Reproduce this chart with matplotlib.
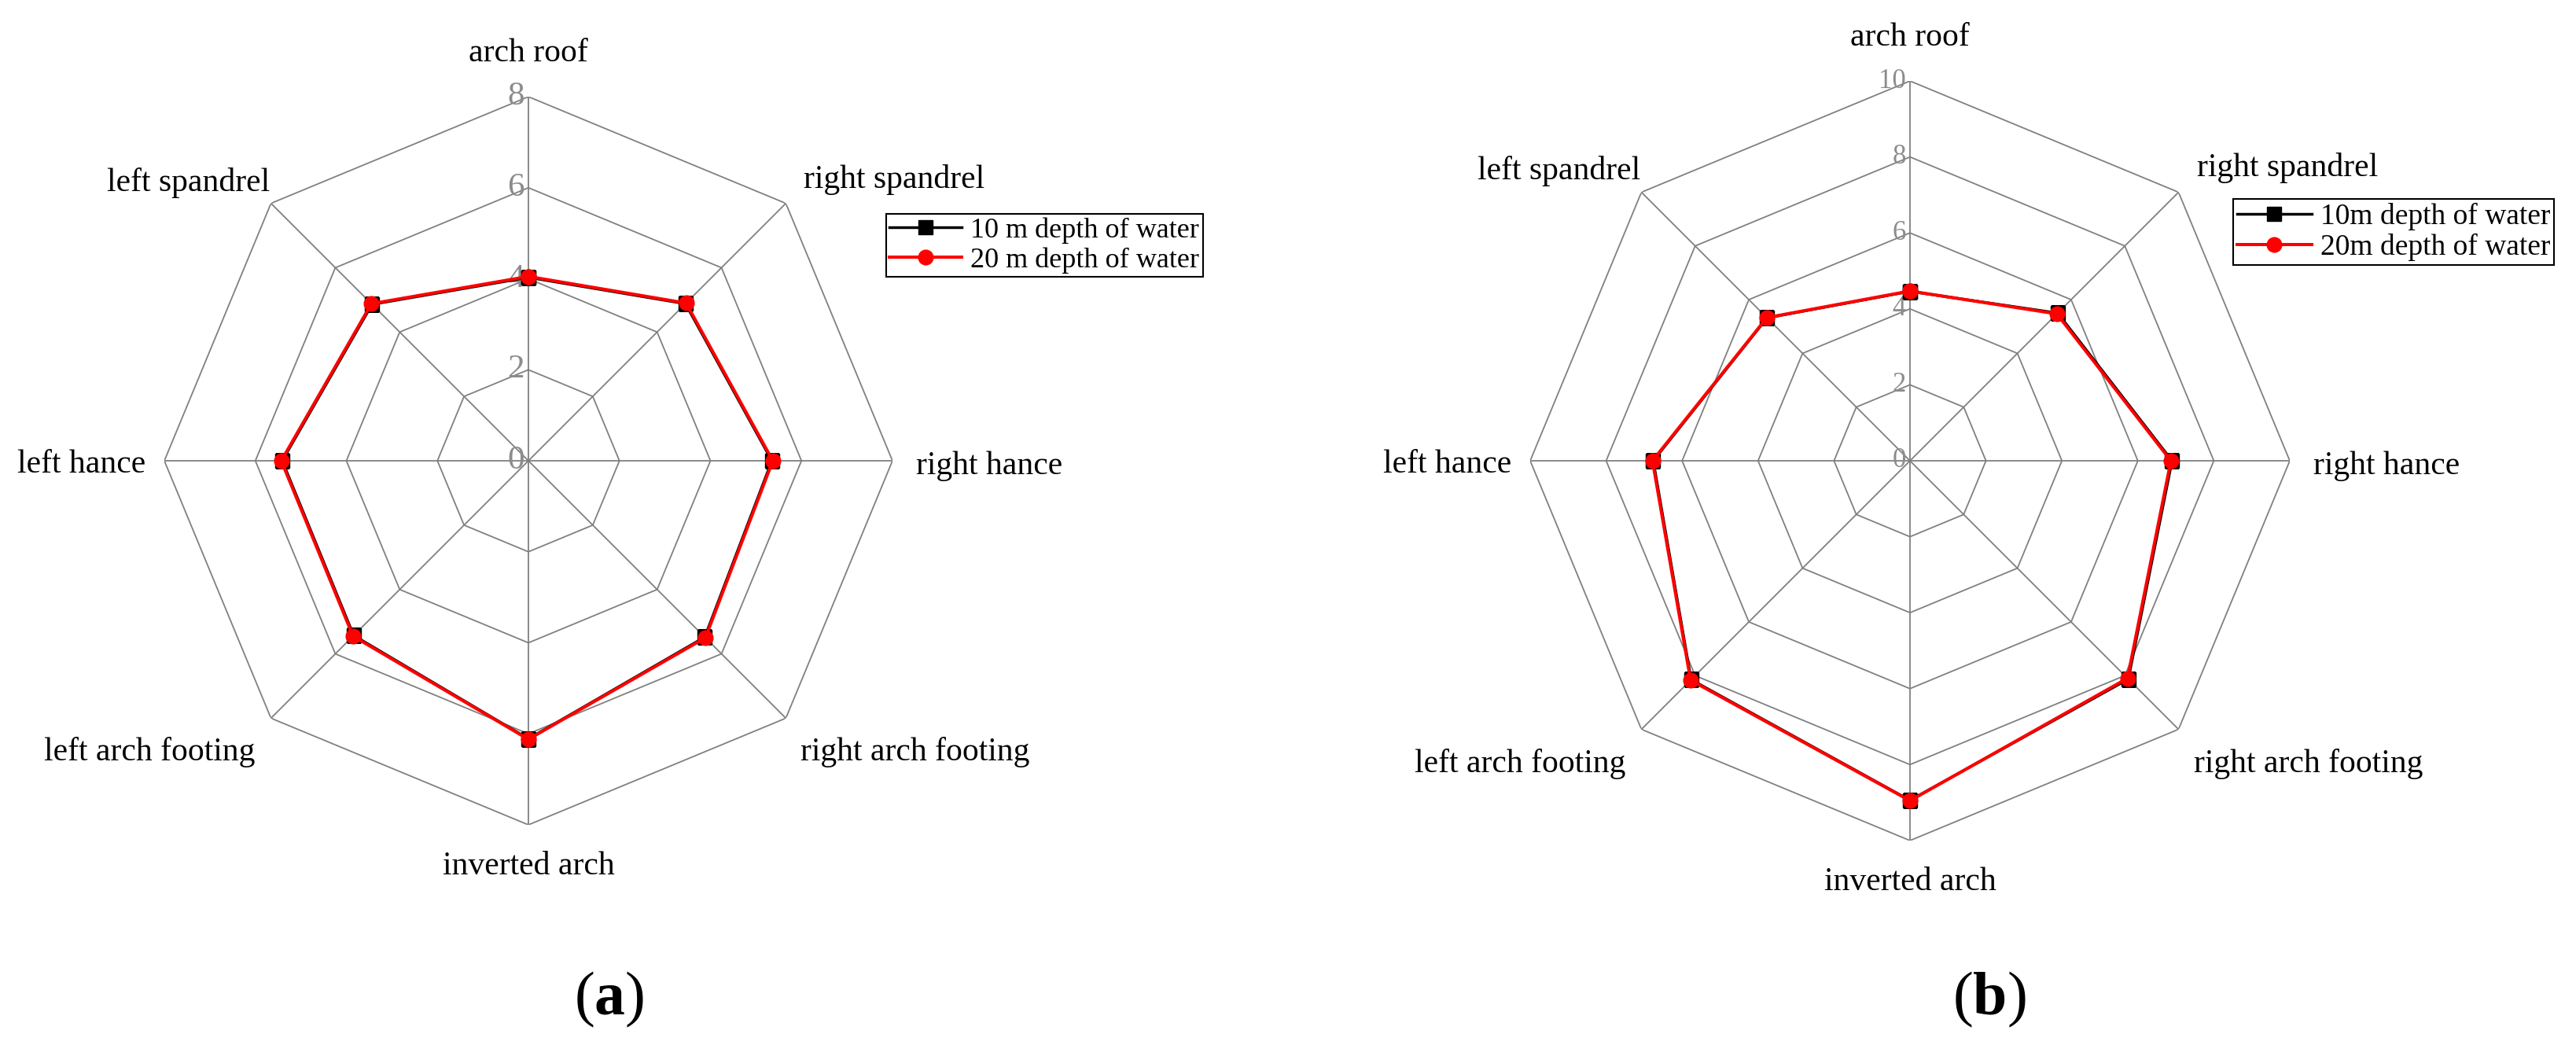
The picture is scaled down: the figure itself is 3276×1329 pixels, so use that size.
import numpy as np
import matplotlib
matplotlib.use("Agg")
import matplotlib.pyplot as plt

plt.rcParams['font.family'] = ['Liberation Serif', 'DejaVu Serif']
plt.rcParams['mathtext.fontset'] = 'custom'
plt.rcParams['mathtext.rm'] = 'Liberation Serif'
plt.rcParams['mathtext.bf'] = 'Liberation Serif:bold'

# categories, clockwise from the top
categories = ['arch roof', 'right spandrel', 'right hance', 'right arch footing',
              'inverted arch', 'left arch footing', 'left hance', 'left spandrel']

# (a)
a_ticks = [0, 2, 4, 6, 8]
a_10m = [4.03, 4.88, 5.35, 5.48, 6.11, 5.43, 5.41, 4.86]
a_20m = [4.05, 4.90, 5.37, 5.50, 6.12, 5.45, 5.43, 4.88]
a_labels = ['10 m depth of water', '20 m depth of water']

# (b)
b_ticks = [0, 2, 4, 6, 8, 10]
b_10m = [4.46, 5.50, 6.90, 8.13, 8.94, 8.15, 6.76, 5.32]
b_20m = [4.47, 5.47, 6.87, 8.10, 8.95, 8.17, 6.78, 5.33]
b_labels = ['10m depth of water', '20m depth of water']

W, H = 3276, 1329
fig = plt.figure(figsize=(W / 100, H / 100), dpi=100)

grid_col = '#808080'
tick_col = '#8c8c8c'

# label placement around the outer vertex (pixels)
lab_off = [(0, 45), (23, 20), (30, -17), (19, -24), (0, -34), (-20, -24), (-24, -15), (-1, 16)]
lab_ha = ['center', 'left', 'left', 'left', 'center', 'right', 'right', 'right']
lab_va = ['baseline', 'baseline', 'baseline', 'top', 'top', 'top', 'baseline', 'baseline']


def radar(cx, cy, rad, ticks, s10, s20, labels, tick_fs, leg_xy, leg_fs):
    ax = fig.add_axes([(cx - rad) / W, (H - cy - rad) / H, 2 * rad / W, 2 * rad / H],
                      projection='polar')
    ax.set_theta_zero_location('N')
    ax.set_theta_direction(-1)
    rmax = ticks[-1]
    ax.set_ylim(0, rmax)
    ax.set_xticks([])
    ax.set_yticks([])
    ax.grid(False)
    ax.spines['polar'].set_visible(False)

    n = len(categories)
    th = np.linspace(0, 2 * np.pi, n, endpoint=False)
    thc = np.append(th, th[0])

    # polygon grid
    for t in ticks[1:]:
        ax.plot(thc, [t] * (n + 1), color=grid_col, lw=1.3, zorder=1)
    for a in th:
        ax.plot([a, a], [0, rmax], color=grid_col, lw=1.3, zorder=1)

    # tick labels on the upward spoke
    for t in ticks:
        ax.annotate(str(t), xy=(0, t), xytext=(-5, 0), textcoords='offset pixels',
                    ha='right', va='center', fontsize=tick_fs, color=tick_col)

    # category labels
    for i, c in enumerate(categories):
        ax.annotate(c, xy=(th[i], rmax), xytext=lab_off[i], textcoords='offset pixels',
                    ha=lab_ha[i], va=lab_va[i], fontsize=30, color='black')

    v10 = np.append(s10, s10[0])
    v20 = np.append(s20, s20[0])
    ax.plot(thc, v10, color='black', lw=2.5, marker='s', ms=12.5, label=labels[0], zorder=3)
    ax.plot(thc, v20, color='red', lw=2.9, marker='o', ms=13.5, label=labels[1], zorder=4)

    leg = ax.legend(loc='upper left', bbox_to_anchor=(leg_xy[0] / W, 1 - leg_xy[1] / H),
                    bbox_transform=fig.transFigure, fontsize=leg_fs, frameon=True,
                    fancybox=False, framealpha=1, borderpad=0.12, handlelength=2.55,
                    handletextpad=0.3, labelspacing=0.12, borderaxespad=0, numpoints=1)
    leg.get_frame().set_edgecolor('black')
    leg.get_frame().set_linewidth(1.5)
    return ax


radar(672, 586, 463, a_ticks, a_10m, a_20m, a_labels, 31, (1127, 272), 26)
radar(2429, 586, 483, b_ticks, b_10m, b_20m, b_labels, 25, (2840, 253), 27)

fig.text(775 / W, 1 - 1271 / H, r'($\mathbf{a}$)', ha='center', va='center', fontsize=56)
fig.text(2530 / W, 1 - 1271 / H, r'($\mathbf{b}$)', ha='center', va='center', fontsize=56)

fig.savefig('out.png', dpi=100, facecolor='white')
